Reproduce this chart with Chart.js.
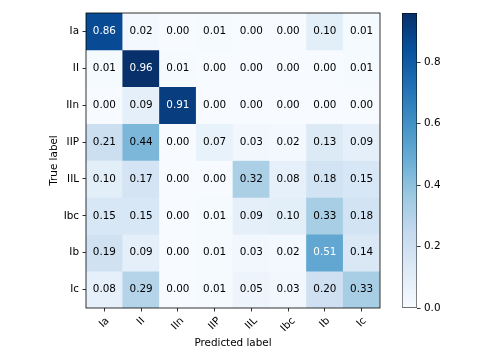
<!DOCTYPE html>
<html>
<head>
<meta charset="utf-8">
<script src="https://cdn.jsdelivr.net/npm/chart.js@4.4.1/dist/chart.umd.min.js"></script>
<style>
  body { margin: 0; background: #fff; }
  #wrap { position: relative; width: 479px; height: 360px; }
  #wrap canvas { position: absolute; top: 0; }
</style>
</head>
<body>
<div id="wrap">
  <canvas id="cm" width="479" height="360" style="left:0"></canvas>
  <canvas id="cbar" width="99" height="360" style="left:380px"></canvas>
</div>
<script>
// classes (same order on both axes)
const classes = ['Ia', 'II', 'IIn', 'IIP', 'IIL', 'Ibc', 'Ib', 'Ic'];

// normalized confusion matrix, one row per true label
const rowIa  = [0.86, 0.02, 0.00, 0.01, 0.00, 0.00, 0.10, 0.01];
const rowII  = [0.01, 0.96, 0.01, 0.00, 0.00, 0.00, 0.00, 0.01];
const rowIIn = [0.00, 0.09, 0.91, 0.00, 0.00, 0.00, 0.00, 0.00];
const rowIIP = [0.21, 0.44, 0.00, 0.07, 0.03, 0.02, 0.13, 0.09];
const rowIIL = [0.10, 0.17, 0.00, 0.00, 0.32, 0.08, 0.18, 0.15];
const rowIbc = [0.15, 0.15, 0.00, 0.01, 0.09, 0.10, 0.33, 0.18];
const rowIb  = [0.19, 0.09, 0.00, 0.01, 0.03, 0.02, 0.51, 0.14];
const rowIc  = [0.08, 0.29, 0.00, 0.01, 0.05, 0.03, 0.20, 0.33];
const matrix = [rowIa, rowII, rowIIn, rowIIP, rowIIL, rowIbc, rowIb, rowIc];

const cbarTicks = [0.0, 0.2, 0.4, 0.6, 0.8];

// matplotlib "Blues"
const blues = ['#f7fbff', '#deebf7', '#c6dbef', '#9ecae1', '#6baed6',
               '#4292c6', '#2171b5', '#08519c', '#08306b'];

const vmax = Math.max(...matrix.flat());
const FONT = { family: "'DejaVu Sans', sans-serif", size: 10.4 };

function hex(c) {
  return [1, 3, 5].map(i => parseInt(c.slice(i, i + 2), 16));
}
function bluesAt(t) {
  t = Math.min(1, Math.max(0, t)) * (blues.length - 1);
  const i = Math.min(Math.floor(t), blues.length - 2);
  const f = t - i;
  const a = hex(blues[i]), b = hex(blues[i + 1]);
  const c = a.map((v, k) => Math.round(v + (b[k] - v) * f));
  return `rgb(${c[0]},${c[1]},${c[2]})`;
}

// --- cell text, rotated x labels and the frame ---
const cmPlugin = {
  id: 'cmPlugin',
  afterDraw(chart) {
    const { ctx, chartArea: a, scales: { x, y } } = chart;
    ctx.save();
    ctx.font = `${FONT.size}px ${FONT.family}`;
    ctx.textAlign = 'center';
    ctx.textBaseline = 'middle';
    matrix.forEach((row, r) => {
      row.forEach((v, c) => {
        ctx.fillStyle = v > vmax / 2 ? '#fff' : '#000';
        ctx.fillText(v.toFixed(2), x.getPixelForValue(c), y.getPixelForValue(r + 0.5));
      });
    });
    // x tick labels, rotated 45 deg and centred on the tick
    ctx.fillStyle = '#000';
    classes.forEach((lab, c) => {
      const w = ctx.measureText(lab).width;
      const cy = a.bottom + 3.5 + 3.5 + (w + 12) * 0.354;
      ctx.save();
      ctx.translate(x.getPixelForValue(c), cy);
      ctx.rotate(-Math.PI / 4);
      ctx.fillText(lab, 0, 0);
      ctx.restore();
    });
    ctx.strokeStyle = '#000';
    ctx.lineWidth = 0.8;
    ctx.strokeRect(a.left, a.top, a.right - a.left, a.bottom - a.top);
    ctx.restore();
  }
};

new Chart(document.getElementById('cm'), {
  type: 'bar',
  data: {
    labels: classes,
    datasets: matrix.map((row, r) => ({
      label: classes[r],
      data: row.map(() => 1),
      backgroundColor: row.map(v => bluesAt(v / vmax)),
      borderWidth: 0,
      barPercentage: 1,
      categoryPercentage: 1
    }))
  },
  options: {
    responsive: false,
    animation: false,
    layout: { padding: { top: 13, right: 99, bottom: 0, left: 0 } },
    plugins: { legend: { display: false }, tooltip: { enabled: false } },
    scales: {
      x: {
        stacked: true,
        grid: { drawOnChartArea: false, offset: false, tickLength: 3.5, tickWidth: 0.8, tickColor: '#000' },
        border: { display: false },
        ticks: { display: false },
        title: { display: true, text: 'Predicted label', color: '#000', font: FONT, padding: { top: 0, bottom: 10 } },
        afterFit: s => { s.height = 52; }
      },
      y: {
        stacked: true,
        reverse: true,
        min: 0,
        max: classes.length,
        grid: { drawOnChartArea: false, tickLength: 3.5, tickWidth: 0.8, tickColor: '#000' },
        border: { display: false },
        afterBuildTicks: s => { s.ticks = classes.map((_, i) => ({ value: i + 0.5 })); },
        ticks: {
          color: '#000',
          font: FONT,
          padding: 3.5,
          callback: v => classes[Math.floor(v)]
        },
        title: { display: true, text: 'True label', color: '#000', font: FONT, padding: { top: 48, bottom: 0 } },
        afterFit: s => { s.width = 86; }
      }
    }
  },
  plugins: [cmPlugin]
});

// --- colorbar ---
new Chart(document.getElementById('cbar'), {
  type: 'bar',
  data: {
    labels: [''],
    datasets: [{
      data: [vmax],
      backgroundColor: ctx => {
        const a = ctx.chart.chartArea;
        if (!a) return blues[4];
        const g = ctx.chart.ctx.createLinearGradient(0, a.bottom, 0, a.top);
        blues.forEach((c, i) => g.addColorStop(i / (blues.length - 1), c));
        return g;
      },
      borderColor: '#000',
      borderWidth: 0.8,
      borderSkipped: false,
      barPercentage: 1,
      categoryPercentage: 1
    }]
  },
  options: {
    responsive: false,
    animation: false,
    layout: { padding: { top: 13, left: 22, right: 0, bottom: 52 } },
    plugins: { legend: { display: false }, tooltip: { enabled: false } },
    scales: {
      x: { display: false },
      y: {
        position: 'right',
        min: 0,
        max: vmax,
        grid: { drawOnChartArea: false, tickLength: 3.5, tickWidth: 0.8, tickColor: '#000' },
        border: { display: false },
        afterBuildTicks: s => { s.ticks = cbarTicks.map(v => ({ value: v })); },
        ticks: { color: '#000', font: FONT, padding: 3.5, callback: v => v.toFixed(1) },
        afterFit: s => { s.width = 62; }
      }
    }
  }
});
</script>
</body>
</html>
